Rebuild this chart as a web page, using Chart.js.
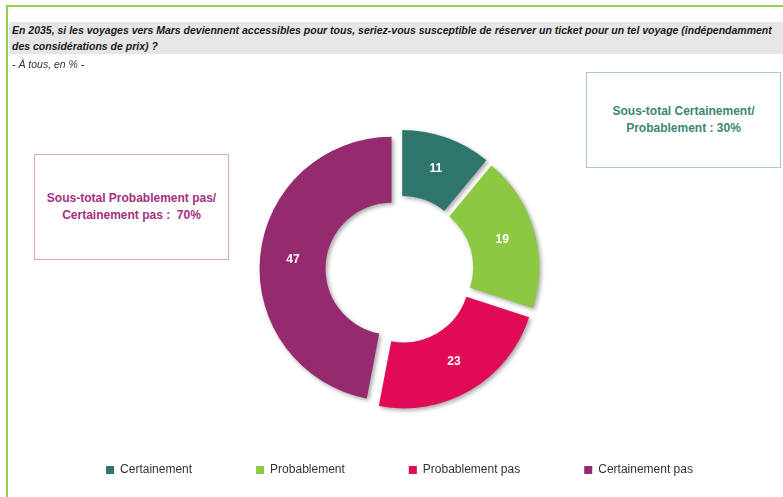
<!DOCTYPE html>
<html lang="fr">
<head>
<meta charset="utf-8">
<script src="https://cdn.jsdelivr.net/npm/chart.js@4.4.1/dist/chart.umd.min.js"></script>
<style>
  html, body { margin: 0; padding: 0; background: #fff; }
  body { width: 783px; height: 497px; position: relative; overflow: hidden; font-family: "Liberation Sans", Arial, sans-serif; }
  #frame { position: absolute; left: 6px; top: 5px; width: 900px; height: 600px; border: 2px solid #92D050; box-sizing: border-box; }
  #head { position: absolute; left: 9px; top: 22px; width: 800px; height: 32px; background: #E6E6E6; }
  #head div { position: absolute; left: 3px; white-space: nowrap; font: italic bold 10.5px "Liberation Sans", sans-serif; color: #1a1a1a; line-height: 16px; }
  #sub { position: absolute; left: 12px; top: 56px; font: italic 10.5px "Liberation Sans", sans-serif; color: #333; line-height: 16px; }
  .box { position: absolute; box-sizing: border-box; display: flex; align-items: center; justify-content: center; text-align: center; font: bold 12px "Liberation Sans", sans-serif; line-height: 17px; background: #fff; }
  #boxYes { left: 586px; top: 72px; width: 195px; height: 96px; border: 1px solid #A9CBC5; color: #3A8676; }
  #boxNo { left: 34px; top: 154px; width: 195px; height: 106px; border: 1px solid #DBA3CB; color: #A3307E; }
  canvas { position: absolute; left: 0; top: 0; }
</style>
</head>
<body>
<canvas id="donut" width="783" height="497"></canvas>
<div id="frame"></div>
<div id="head">
  <div style="top:0">En 2035, si les voyages vers Mars deviennent accessibles pour tous, seriez-vous susceptible de réserver un ticket pour un tel voyage (indépendamment</div>
  <div style="top:16px">des considérations de prix) ?</div>
</div>
<div id="sub">- À tous, en % -</div>
<div class="box" id="boxYes"></div>
<div class="box" id="boxNo"></div>
<script>
const categories = ["Certainement", "Probablement", "Probablement pas", "Certainement pas"];
const values = [11, 19, 23, 47];
const colors = ["#2E766B", "#8DC843", "#E10A57", "#962A6E"];

// slices pulled away from the centre, in px
const EXPLODE = 8;

document.getElementById("boxYes").innerHTML =
  "Sous-total Certainement/<br>Probablement : " + (values[0] + values[1]) + "%";
document.getElementById("boxNo").innerHTML =
  "Sous-total Probablement pas/<br>Certainement pas :&nbsp; " + (values[2] + values[3]) + "%";

const explodedSlices = {
  id: "explodedSlices",
  beforeDatasetsDraw(chart) {
    const ctx = chart.ctx;
    chart.getDatasetMeta(0).data.forEach((arc) => {
      const mid = (arc.startAngle + arc.endAngle) / 2;
      ctx.save();
      ctx.translate(Math.cos(mid) * EXPLODE, Math.sin(mid) * EXPLODE);
      ctx.shadowColor = "rgba(0,0,0,0.35)";
      ctx.shadowBlur = 4;
      ctx.shadowOffsetX = 2;
      ctx.shadowOffsetY = 2;
      arc.draw(ctx);
      ctx.restore();
    });
    return false;
  },
  // value labels, in the middle of each (shifted) ring segment
  afterDraw(chart) {
    const ctx = chart.ctx;
    const ds = chart.data.datasets[0];
    ctx.save();
    ctx.fillStyle = "#fff";
    ctx.font = "bold 12px 'Liberation Sans', sans-serif";
    ctx.textAlign = "center";
    ctx.textBaseline = "middle";
    chart.getDatasetMeta(0).data.forEach((arc, i) => {
      const mid = (arc.startAngle + arc.endAngle) / 2;
      const r = (arc.innerRadius + arc.outerRadius) / 2 + EXPLODE;
      ctx.fillText(String(ds.data[i]), arc.x + Math.cos(mid) * r, arc.y + Math.sin(mid) * r);
    });
    ctx.restore();
  },
};

new Chart(document.getElementById("donut"), {
  type: "doughnut",
  data: {
    labels: categories,
    datasets: [{
      data: values,
      backgroundColor: colors,
      borderWidth: 0,
    }],
  },
  options: {
    responsive: false,
    animation: false,
    radius: 132,
    cutout: "50%",
    layout: { padding: { left: 16, right: 0, top: 139, bottom: 11 } },
    plugins: {
      tooltip: { enabled: false },
      legend: {
        position: "bottom",
        labels: {
          boxWidth: 8,
          boxHeight: 8,
          padding: 64,
          color: "#333",
          font: { family: "'Liberation Sans', sans-serif", size: 12 },
        },
      },
    },
  },
  plugins: [explodedSlices],
});
</script>
</body>
</html>
